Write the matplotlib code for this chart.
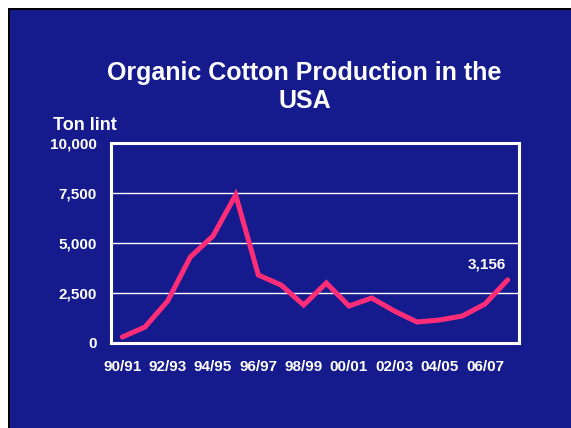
import matplotlib
matplotlib.use('Agg')
import matplotlib.pyplot as plt
from matplotlib.patches import Rectangle
import numpy as np

# organic cotton production in the USA, ton lint per season
seasons = ['90/91', '91/92', '92/93', '93/94', '94/95', '95/96', '96/97', '97/98',
           '98/99', '99/00', '00/01', '01/02', '02/03', '03/04', '04/05', '05/06',
           '06/07', '07/08']
tons = [300, 800, 2100, 4300, 5350, 7400, 3400, 2900, 1900, 3000, 1850, 2250,
        1600, 1050, 1150, 1350, 1950, 3156]
yticks = [0, 2500, 5000, 7500, 10000]

plt.rcParams['font.family'] = ['Liberation Sans', 'DejaVu Sans']
bg = '#151b8d'

fig = plt.figure(figsize=(5.71, 4.28), dpi=100, facecolor=bg)
W, H = 571.0, 428.0
# white margin + black edge on top/left of the slide
for (x0, y0, w, h, c) in [(0, 0, 8, H, 'white'), (0, H - 8, W, 8, 'white'),
                          (8, 0, 2, H - 8, 'black'), (8, H - 10, W - 8, 2, 'black')]:
    fig.patches.append(Rectangle((x0 / W, y0 / H), w / W, h / H, transform=fig.transFigure,
                                 facecolor=c, edgecolor='none', lw=0))

ax = fig.add_axes([111/W, 85/H, 408/W, 200/H])
ax.set_facecolor(bg)
x = np.arange(len(seasons))
ax.plot(x, tons, color='#ff2d78', lw=3.6, solid_capstyle='round', solid_joinstyle='miter', zorder=3)

ax.set_xlim(-0.5, len(seasons) - 0.5)
ax.set_ylim(0, 10000)
ax.set_yticks(yticks)
ax.set_yticklabels(['{:,}'.format(v) for v in yticks])
ax.set_xticks(x[::2])
ax.set_xticklabels(seasons[::2])
ax.tick_params(length=0, colors='white', labelsize=11)
ax.tick_params(axis='y', pad=10)
ax.tick_params(axis='x', pad=12)
for lab in ax.get_xticklabels() + ax.get_yticklabels():
    lab.set_fontweight('bold')
for s in ax.spines.values():
    s.set_color('white')
    s.set_linewidth(2.2)
for v in yticks[1:-1]:
    ax.axhline(v, color='white', lw=1.0, zorder=1)

ax.annotate('{:,}'.format(tons[-1]), (x[-1], tons[-1]), xytext=(-21, 8),
            textcoords='offset pixels', ha='center', va='bottom',
            color='white', fontsize=11, fontweight='bold')

fig.text(304.5/W, 1 - 87/H, 'Organic Cotton Production in the\nUSA',
         ha='center', va='center', multialignment='center', linespacing=1.2,
         color='white', fontsize=18, fontweight='bold')
fig.text(53/W, 1 - 126/H, 'Ton lint', ha='left', va='center',
         color='white', fontsize=13, fontweight='bold')

fig.savefig('out.png', dpi=100, facecolor=fig.get_facecolor())
